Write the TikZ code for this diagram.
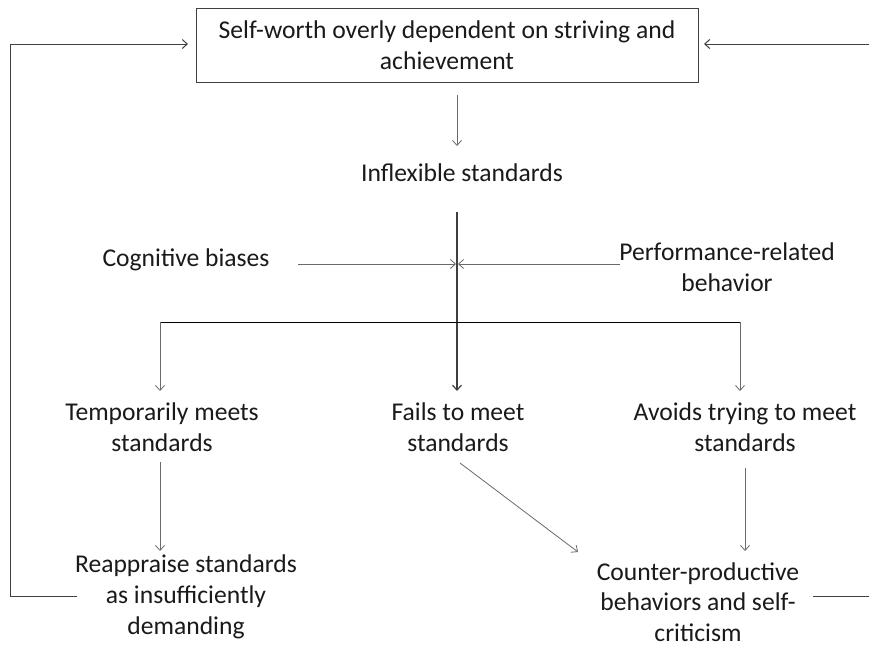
\documentclass[tikz,border=0pt]{standalone}
\usepackage{fontspec}
\setmainfont{Carlito}
\usetikzlibrary{arrows.meta}
\definecolor{txt}{HTML}{1A1A1A}
\definecolor{ln}{HTML}{6A6A6A}
\definecolor{lnd}{HTML}{404040}
\tikzset{
  x=1pt,y=-1pt,
  lbl/.style={text=txt,align=center,inner sep=0pt,font=\fontsize{25.6}{30.8}\selectfont},
  arr/.style={draw=ln,line width=0.8pt,-{Straight Barb[length=5pt,width=9pt]}},
  loopln/.style={draw=lnd,line width=1pt},
}
\begin{document}
\begin{tikzpicture}
\useasboundingbox (0,0) rectangle (869,646);
\fill[white] (0,0) rectangle (869,646);
% nodes
\node[lbl,draw=lnd,line width=1pt,minimum width=502pt,minimum height=74pt] (top) at (447,45) {Self-worth overly dependent on striving and\\achievement};
\node[lbl] (infl) at (462,173) {Inflexible standards};
\node[lbl] (cog) at (186,260) {Cognitive biases};
\node[lbl] (perf) at (727,267) {Performance-related\\behavior};
\node[lbl] (temp) at (162,427) {Temporarily meets\\standards};
\node[lbl] (fail) at (458,427) {Fails to meet\\standards};
\node[lbl] (avoid) at (745,427) {Avoids trying to meet\\standards};
\node[lbl] (reap) at (186,597) {Reappraise standards\\as insufficiently\\demanding};
\node[lbl] (cpb) at (698,602) {Counter-productive\\behaviors and self-\\criticism};
% connector points
\coordinate (t1) at (457,95);
\coordinate (t2) at (457,146);
\coordinate (c1) at (457,212);
\coordinate (c2) at (457,391);
\coordinate (x) at (457,264);
\coordinate (cogR) at (298,264);
\coordinate (perfL) at (620,264);
\coordinate (bL) at (160,322);
\coordinate (bR) at (740,322);
\coordinate (bLe) at (160,391);
\coordinate (bRe) at (740,391);
\coordinate (tmp1) at (160,462);
\coordinate (tmp2) at (160,551);
\coordinate (f1) at (460,463);
\coordinate (f2) at (578,552);
\coordinate (a1) at (745,468);
\coordinate (a2) at (745,551);
\coordinate (r1) at (77,596);
\coordinate (lc1) at (10,596);
\coordinate (lc2) at (10,44);
\coordinate (topL) at (188,44);
\coordinate (p1) at (813,596);
\coordinate (p2) at (869,596);
\coordinate (q1) at (869,44);
\coordinate (topR) at (704,44);
% connectors
\draw[arr] (t1) -- (t2);
\draw[draw=lnd,line width=1.2pt,-{Straight Barb[length=5pt,width=9pt]}] (c1) -- (c2);
\draw[arr] (cogR) -- ([xshift=-1pt]x);
\draw[arr] (perfL) -- ([xshift=1pt]x);
\draw[draw=black,line width=1pt] (bL) -- (bR);
\draw[arr] (bL) -- (bLe);
\draw[arr] (bR) -- (bRe);
\draw[arr] (tmp1) -- (tmp2);
\draw[arr] (f1) -- (f2);
\draw[arr] (a1) -- (a2);
\draw[loopln,-{Straight Barb[length=5pt,width=9pt]}] (r1) -- (lc1) -- (lc2) -- (topL);
\draw[loopln] (p1) -- (p2);
\draw[loopln,-{Straight Barb[length=5pt,width=9pt]}] (q1) -- (topR);
\end{tikzpicture}
\end{document}
